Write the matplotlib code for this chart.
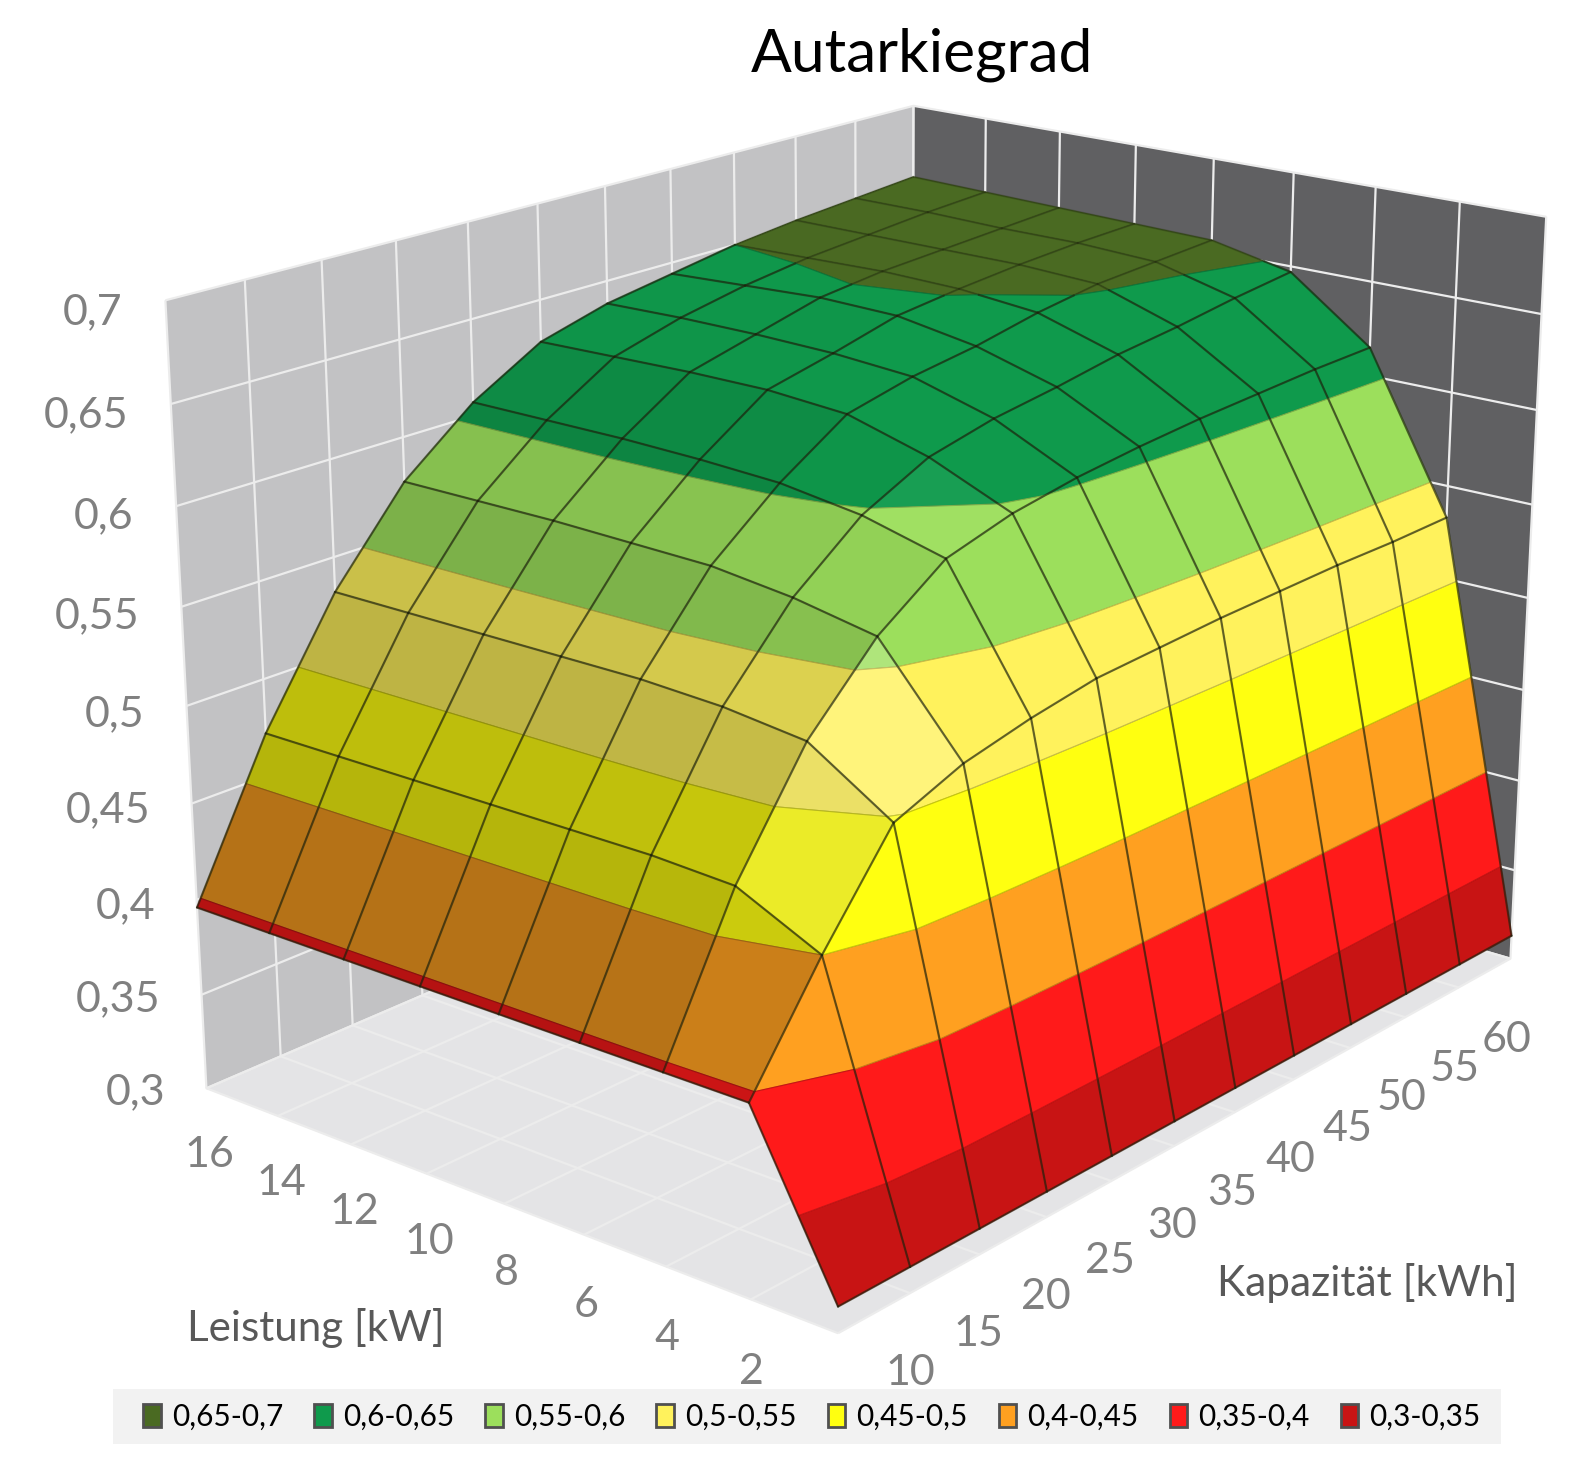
import numpy as np
import matplotlib
matplotlib.use('Agg')
import matplotlib.pyplot as plt
from matplotlib.patches import Patch, Rectangle
from matplotlib.ticker import NullFormatter
from mpl_toolkits.mplot3d import proj3d
from mpl_toolkits.mplot3d.art3d import Poly3DCollection

plt.rcParams['font.family'] = ['Lato', 'DejaVu Sans']

capacity = [5, 10, 15, 20, 25, 30, 35, 40, 45, 50, 55, 60]
power = [0, 2, 4, 6, 8, 10, 12, 14, 16]
capacity_labels = ['', '10', '15', '20', '25', '30', '35', '40', '45', '50', '55', '60']
power_labels = ['', '2', '4', '6', '8', '10', '12', '14', '16']
z_ticks = [0.3, 0.35, 0.4, 0.45, 0.5, 0.55, 0.6, 0.65, 0.7]
z_labels = ['0,3', '0,35', '0,4', '0,45', '0,5', '0,55', '0,6', '0,65', '0,7']
row_p0 = [.313, .313, .313, .313, .313, .313, .313, .313, .313, .313, .313, .313]
row_p2 = [.396, .450, .498, .512, .520, .526, .528, .530, .531, .532, .532, .533]
row_p4 = [.396, .470, .525, .562, .587, .597, .603, .607, .610, .612, .614, .615]
row_p6 = [.396, .472, .530, .570, .598, .615, .623, .628, .634, .638, .643, .647]
row_p8 = [.396, .472, .532, .575, .604, .627, .635, .640, .647, .652, .654, .656]
row_p10 = [.396, .472, .532, .576, .606, .630, .638, .647, .651, .654, .656, .657]
row_p12 = [.396, .472, .532, .577, .607, .630, .639, .648, .652, .654, .656, .658]
row_p14 = [.396, .472, .532, .577, .607, .629, .639, .646, .651, .654, .657, .659]
row_p16 = [.396, .472, .532, .577, .607, .628, .638, .644, .650, .654, .657, .660]
band_edges = [.3, .35, .4, .45, .5, .55, .6, .65, .7]
band_labels = ['0,3-0,35', '0,35-0,4', '0,4-0,45', '0,45-0,5', '0,5-0,55', '0,55-0,6', '0,6-0,65', '0,65-0,7']
band_colors = ['#c81414', '#ff1a1a', '#ffa020', '#ffff10', '#fff25c', '#9cdf5c', '#0f9a4c', '#4a6a22']

W, H = 1581, 1457
elev, azim, focal, a, b, c = 18.972, -140.411, 0.5481, 1.3741, 1.0168, 1.0
left, bottom, S = 82.90, 9.77, 1552.34

fig = plt.figure(figsize=(W/100, H/100), dpi=100)
fig.add_artist(Rectangle((113/W, 1-1444/H), 1388/W, 55/H, transform=fig.transFigure, facecolor='#f2f2f2', edgecolor='none', zorder=-5))
ax = fig.add_axes([left/W, bottom/H, S/W, S/H], projection='3d')
ax.set_xlim(capacity[0], capacity[-1], view_margin=0)
ax.set_ylim(power[0], power[-1], view_margin=0)
ax.set_zlim(.3, .7, view_margin=0)
ax.view_init(elev, azim)
ax.set_proj_type('persp', focal_length=focal)
ax.set_box_aspect((a, b, c))
ax.patch.set_alpha(0)
xa, xb, ya, yb = capacity[0], capacity[-1], power[0], power[-1]

Z = np.array([row_p0, row_p2, row_p4, row_p6, row_p8, row_p10, row_p12, row_p14, row_p16])
Cg = np.array(capacity, float); Pg = np.array(power, float)

def clip(poly, lo, hi):
    def cut(pl, lev, keep_above):
        out = []
        n = len(pl)
        for i in range(n):
            A, B = pl[i], pl[(i+1) % n]
            ina = A[2] >= lev if keep_above else A[2] <= lev
            inb = B[2] >= lev if keep_above else B[2] <= lev
            if ina:
                out.append(A)
            if ina != inb:
                u = (lev - A[2])/(B[2] - A[2])
                out.append(tuple(A[k] + u*(B[k]-A[k]) for k in range(3)))
        return out
    pl = cut(poly, lo, True)
    return cut(pl, hi, False) if pl else pl

polys, cols, eds = [], [], []
for j in range(len(Pg)-1):
    for i in range(len(Cg)-1):
        quad = [(Cg[i], Pg[j], Z[j, i]), (Cg[i+1], Pg[j], Z[j, i+1]), (Cg[i+1], Pg[j+1], Z[j+1, i+1]), (Cg[i], Pg[j+1], Z[j+1, i])]
        zx = ((Z[j, i+1]+Z[j+1, i+1]-Z[j, i]-Z[j+1, i])/2/.4*c)/(a/11)
        zy = ((Z[j+1, i]+Z[j+1, i+1]-Z[j, i]-Z[j, i+1])/2/.4*c)/(b/8)
        nrm = np.sqrt(zx*zx+zy*zy+1)
        nx, ny = zx/nrm, zy/nrm
        sh = 1 - .38*max(0, nx - ny)**1.5
        wh = 1.2*max(0, min(nx, ny) - .22)
        for m in range(8):
            pl = clip(quad, band_edges[m], band_edges[m+1])
            if len(pl) >= 3:
                rgb = np.array(matplotlib.colors.to_rgb(band_colors[m]))*sh
                rgb = rgb*(1-wh) + wh
                polys.append(pl); cols.append(tuple(rgb)); eds.append(tuple(rgb*.78))
coll = Poly3DCollection(polys, facecolors=cols, edgecolors=eds, linewidths=.8, zsort='average')
coll.set_zorder(1)
ax.computed_zorder = False
ax.add_collection3d(coll, autolim=False)

def mesh_line(xs, ys, zs):
    for k in range(len(xs)-1):
        x0, y0, z0, x1, y1, z1 = xs[k], ys[k], zs[k], xs[k+1], ys[k+1], zs[k+1]
        if (z0 - .65)*(z1 - .65) < 0:
            u = (.65 - z0)/(z1 - z0)
            xm, ym = x0 + u*(x1-x0), y0 + u*(y1-y0)
            parts = [((x0, xm), (y0, ym), (z0, .65)), ((xm, x1), (ym, y1), (.65, z1))]
        else:
            parts = [((x0, x1), (y0, y1), (z0, z1))]
        for px, py, pz in parts:
            faint = max(pz) > .65
            ax.plot(px, py, pz, color=(.12, .14, .05, .22 if faint else .62), lw=1.6, zorder=2, solid_capstyle='round')

for j in range(len(Pg)):
    mesh_line(Cg, np.full(len(Cg), Pg[j]), Z[j])
for i in range(len(Cg)):
    mesh_line(np.full(len(Pg), Cg[i]), Pg, Z[:, i])

ax.set_xticks(capacity); ax.set_yticks(power); ax.set_zticks(z_ticks)
for axis, col in ((ax.xaxis, '#606062'), (ax.yaxis, '#c2c2c4'), (ax.zaxis, '#e4e4e6')):
    axis.set_major_formatter(NullFormatter())
    axis.set_pane_color(col)
    axis.pane.set_edgecolor('none')
    axis.line.set_color((0, 0, 0, 0))
    axis.offsetText.set_visible(False)
    axis._axinfo['grid'].update(color='#ececec', linewidth=1.6)
    axis._axinfo['tick'].update(inward_factor=0, outward_factor=0)
ax.grid(True)

M = ax.get_proj()
def label3d(x, y, z, s, ha):
    X, Y, _ = proj3d.proj_transform(x, y, z, M)
    ax.text2D(X, Y, s, transform=ax.transData, color='#808080', fontsize=31, ha=ha, va='center', zorder=3)

for i, (v, lab) in enumerate(zip(capacity, capacity_labels)):
    if lab:
        label3d(v, ya, .3-.039-.0007*i, lab, 'center')
for v, lab in zip(power, power_labels):
    if lab:
        label3d(xa, v, .3-.036, lab, 'center')
for v, lab in zip(z_ticks, z_labels):
    label3d(xa, yb+1.2, v-.011, lab, 'right')

fig.text(922/W, 1-55/H, 'Autarkiegrad', fontsize=43.5, color='black', ha='center', va='center')
fig.text(316/W, 1-1328/H, 'Leistung [kW]', fontsize=30.3, color='#595959', ha='center', va='center')
fig.text(1367/W, 1-1283/H, 'Kapazität [kWh]', fontsize=30.5, color='#595959', ha='center', va='center')

handles = [Patch(facecolor=band_colors[m], edgecolor='#505050', lw=2, label=band_labels[m]) for m in range(7, -1, -1)]
fig.legend(handles=handles, ncol=8, loc='center', bbox_to_anchor=(812/W, 1-1417/H), frameon=False,
           fontsize=21.4, handlelength=.58, handleheight=.8, handletextpad=.38, columnspacing=1.05, borderpad=0)
fig.savefig('out.png', dpi=100)
